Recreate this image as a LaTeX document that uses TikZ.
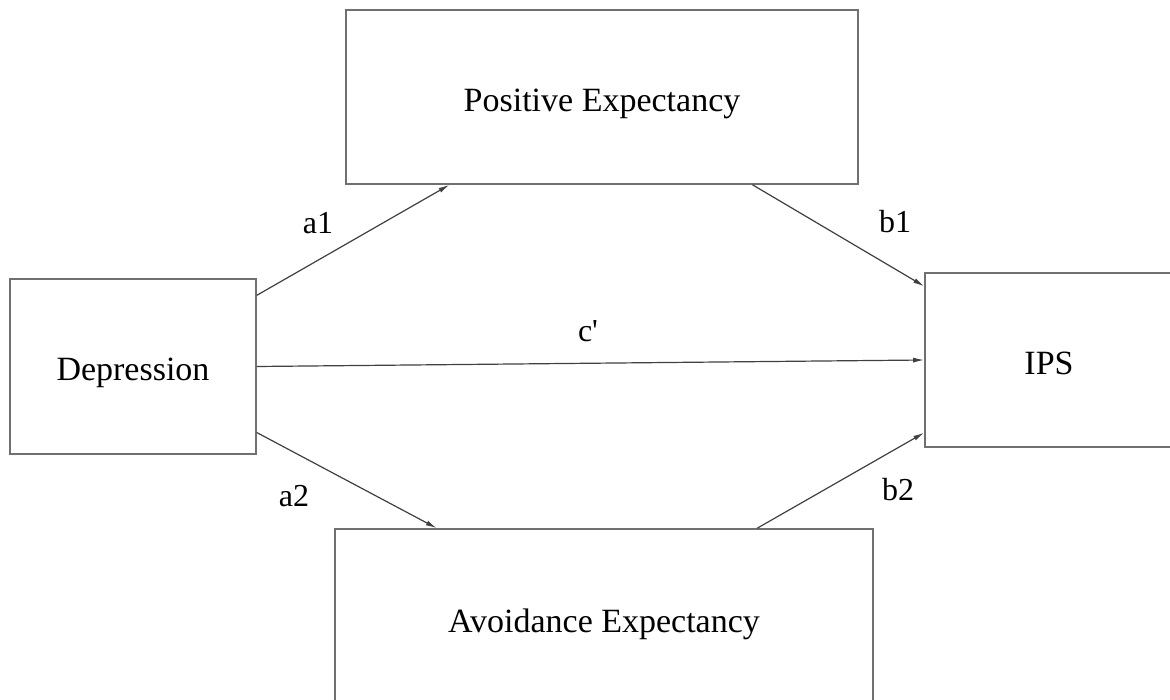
\documentclass[tikz,border=0pt]{standalone}
\usepackage{fontspec}
\setmainfont{Liberation Serif}
\usetikzlibrary{arrows.meta,calc}
\definecolor{boxgray}{HTML}{707070}
\definecolor{linegray}{HTML}{404040}
\begin{document}
\begin{tikzpicture}[x=1pt,y=-1pt,
  box/.style={draw=boxgray,line width=1.6pt,rectangle,inner sep=0pt,text height=37pt,text depth=8pt,font=\fontsize{34}{40}\selectfont},
  link/.style={draw=linegray,line width=1.2pt,-{Latex[length=11pt,width=5pt]}},
  lab/.style={font=\fontsize{32}{38}\selectfont,inner sep=0pt}]
\useasboundingbox (0,0) rectangle (1170,700);
\fill[white] (0,0) rectangle (1170,700);
\node[box,minimum width=512pt,minimum height=174pt] (pos) at (602,97) {Positive Expectancy};
\node[box,minimum width=246pt,minimum height=175pt] (dep) at (133,366.5) {Depression};
\node[box,minimum width=248pt,minimum height=174pt] (ips) at (1049,360) {IPS};
\node[box,minimum width=538pt,minimum height=178pt] (avo) at (604,618) {Avoidance Expectancy};
\draw[link] ($(dep.north east)!0.097!(dep.south east)$) -- ($(pos.south west)!0.203!(pos.south east)$);
\draw[link] ($(pos.south west)!0.793!(pos.south east)$) -- ($(ips.north west)!0.08!(ips.south west)$);
\draw[link] (dep.east) -- (ips.west);
\draw[link] ($(dep.north east)!0.874!(dep.south east)$) -- ($(avo.north west)!0.19!(avo.north east)$);
\draw[link] ($(avo.north west)!0.784!(avo.north east)$) -- ($(ips.north west)!0.914!(ips.south west)$);
\node[lab] (la1) at (318,223) {a1};
\node[lab] (lb1) at (895,222) {b1};
\node[lab] (lc) at (588,331) {c\textquotesingle};
\node[lab] (la2) at (294,496) {a2};
\node[lab] (lb2) at (898,490) {b2};
\end{tikzpicture}
\end{document}
